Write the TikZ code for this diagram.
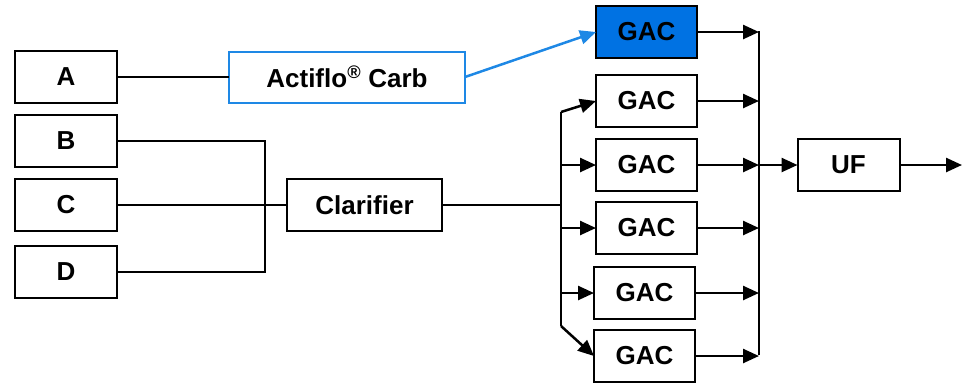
\documentclass[tikz,border=0pt]{standalone}
\usepackage{fontspec}
\setmainfont{Liberation Sans}
\usepackage{xcolor}
\usepackage{tikz}
\usetikzlibrary{arrows.meta, positioning}

\definecolor{gacblue}{RGB}{0,114,227}
\definecolor{lineblue}{RGB}{30,136,229}

\begin{document}
\begin{tikzpicture}[
    x=1pt, y=-1pt,
    every node/.style={
        draw,
        rectangle,
        line width=2pt,
        minimum width=102pt,
        minimum height=52pt,
        inner sep=0pt,
        outer sep=0pt,
        text centered,
        font=\fontsize{26}{29}\selectfont\bfseries
    },
    source/.style={},
    plant/.style={},
    actiflo/.style={draw=lineblue, minimum width=236pt, minimum height=51pt},
    gac/.style={minimum width=101pt},
    gachi/.style={gac, fill=gacblue},
    pipe/.style={line width=2pt},
    flow/.style={line width=2.5pt, -{Triangle[length=16pt,width=14pt]}},
    blueflow/.style={flow, draw=lineblue, -{Triangle[length=16pt,width=14pt]}}
]
\useasboundingbox (0,0) rectangle (969,384);

% Sources
\node[source] (A) at (66,77) {A};
\node[source] (B) at (66,141) {B};
\node[source] (C) at (66,205) {C};
\node[source] (D) at (66,272) {D};

% Treatment
\node[actiflo] (actiflo) at (347,77) {Actiflo\textsuperscript{®} Carb};
\node[plant, minimum width=155pt] (clar) at (364.5,205) {Clarifier};

% GAC filters
\node[gachi] (g1) at (646.5,32) {GAC};
\node[gac] (g2) at (646.5,101) {GAC};
\node[gac] (g3) at (646.5,165) {GAC};
\node[gac] (g4) at (646.5,228) {GAC};
\node[gac] (g5) at (644.5,293) {GAC};
\node[gac] (g6) at (644.5,356) {GAC};

\node[plant] (uf) at (848.5,165) {UF};

% Headers and collectors
\coordinate (mix) at (265,205);
\coordinate (spT) at (561,112);
\coordinate (spB) at (561,326);
\coordinate (colT) at (759,31);
\coordinate (colB) at (759,355);
\coordinate (out) at (962,165);

% Lines
\draw[pipe] (A.east) -- (actiflo.west);
\draw[blueflow] (actiflo.east) -- (g1.west);
\draw[pipe] (B.east) -| (mix) |- (D.east);
\draw[pipe] (C.east) -- (clar.west);
\draw[pipe] (clar.east) -- (clar.east -| spT);
\draw[pipe] (spT) -- (spB);

\draw[flow] (spT) -- (g2.west);
\draw[flow] (g3.west -| spT) -- (g3.west);
\draw[flow] (g4.west -| spT) -- (g4.west);
\draw[flow] (g5.west -| spT) -- (g5.west);
\draw[flow] (spB) -- (g6.west);

\draw[pipe] (colT) -- (colB);
\foreach \g in {g1,g2,g3,g4,g5,g6}
    \draw[flow] (\g.east) -- (\g.east -| colT);

\draw[flow] (g3.east -| colT) -- (uf.west);
\draw[flow] (uf.east) -- (out);

\end{tikzpicture}
\end{document}
